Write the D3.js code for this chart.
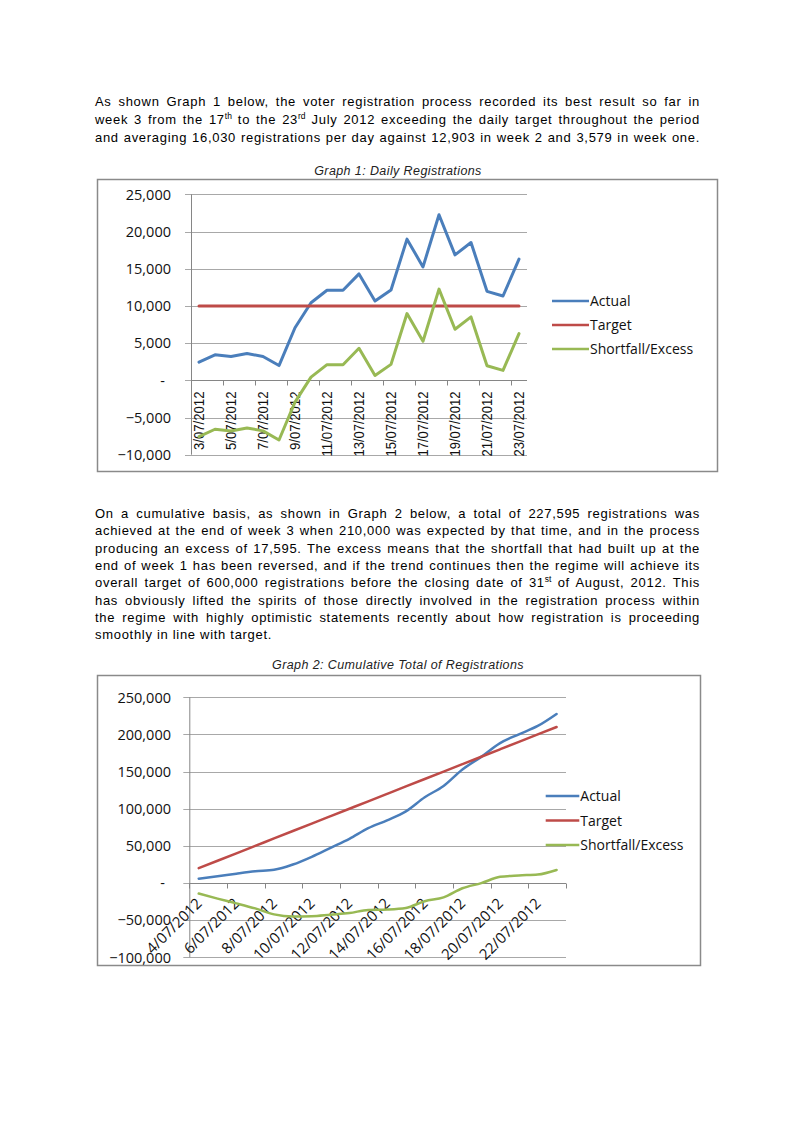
<!DOCTYPE html>
<html><head><meta charset="utf-8">
<script src="https://cdn.jsdelivr.net/npm/d3@7"></script>
<style>
body{margin:0;background:#fff;}
#page{position:relative;width:800px;height:1131px;overflow:hidden;background:#fff;}
.ln{position:absolute;left:95px;width:605px;font-family:"Liberation Sans",Arial,sans-serif;font-size:13px;color:#000;white-space:nowrap;text-align:justify;text-align-last:justify;letter-spacing:0.7px;line-height:16px;}
.ln.last{text-align-last:left;}
.ln sup{font-size:8.5px;vertical-align:5px;line-height:0;letter-spacing:0;}
svg{position:absolute;left:0;top:0;}
</style></head>
<body><div id="page"></div>
<script>
// ---------- data ----------
const dates1 = ["3/07/2012","4/07/2012","5/07/2012","6/07/2012","7/07/2012","8/07/2012","9/07/2012","10/07/2012","11/07/2012","12/07/2012","13/07/2012","14/07/2012","15/07/2012","16/07/2012","17/07/2012","18/07/2012","19/07/2012","20/07/2012","21/07/2012","22/07/2012","23/07/2012"];
const daily_actual = [2430,3420,3190,3600,3200,1980,7060,10430,12100,12100,14300,10650,12140,18970,15240,22250,16860,18520,11960,11330,16280];
const daily_target = [10000,10000,10000,10000,10000,10000,10000,10000,10000,10000,10000,10000,10000,10000,10000,10000,10000,10000,10000,10000,10000];
const daily_shortfall = [-7570,-6580,-6810,-6400,-6800,-8020,-2940,430,2100,2100,4300,650,2140,8970,5240,12250,6860,8520,1960,1330,6280];
const ticks1 = [-10000,-5000,0,5000,10000,15000,20000,25000];

const dates2 = ["4/07/2012","5/07/2012","6/07/2012","7/07/2012","8/07/2012","9/07/2012","10/07/2012","11/07/2012","12/07/2012","13/07/2012","14/07/2012","15/07/2012","16/07/2012","17/07/2012","18/07/2012","19/07/2012","20/07/2012","21/07/2012","22/07/2012","23/07/2012"];
const cum_actual = [5800,9000,12600,15800,17800,24900,35300,47400,59500,73800,84400,96500,115500,130700,152900,169800,188300,200200,211400,227595];
const cum_target = [20000,30000,40000,50000,60000,70000,80000,90000,100000,110000,120000,130000,140000,150000,160000,170000,180000,190000,200000,210000];
const cum_shortfall = [-14200,-21000,-27400,-34200,-42200,-45100,-44700,-42600,-40500,-36200,-35600,-33500,-24500,-19300,-7100,-200,8300,10200,11400,17595];
const ticks2 = [-100000,-50000,0,50000,100000,150000,200000,250000];

const seriesNames = ["Actual","Target","Shortfall/Excess"];
const colors = ["#4A7EBB","#BE4B48","#98B954"];

// ---------- text ----------
const page = d3.select("#page");
const para1 = [
 "As shown Graph 1 below, the voter registration process recorded its best result so far in",
 "week 3 from the 17<sup>th</sup> to the 23<sup>rd</sup> July 2012 exceeding the daily target throughout the period",
 "and averaging 16,030 registrations per day against 12,903 in week 2 and 3,579 in week one."
];
const para2 = [
 "On a cumulative basis, as shown in Graph 2 below, a total of 227,595 registrations was",
 "achieved at the end of week 3 when 210,000 was expected by that time, and in the process",
 "producing an excess of 17,595. The excess means that the shortfall that had built up at the",
 "end of week 1 has been reversed, and if the trend continues then the regime will achieve its",
 "overall target of 600,000 registrations before the closing date of 31<sup>st</sup> of August, 2012. This",
 "has obviously lifted the spirits of those directly involved in the registration process within",
 "the regime with highly optimistic statements recently about how registration is proceeding",
 "smoothly in line with target."
];
para1.forEach((t,i)=>page.append("div").attr("class","ln").style("top",(94+i*18)+"px").html(t));
para2.forEach((t,i)=>page.append("div").attr("class","ln"+(i===para2.length-1?" last":"")).style("top",(506+i*17.3)+"px").html(t));

const svg = page.append("svg").attr("width",800).attr("height",1131);
const fmt = d3.format(",");

function chart(o){
  const g = svg.append("g");
  g.append("rect").attr("x",o.box[0]).attr("y",o.box[1]).attr("width",o.box[2]-o.box[0]).attr("height",o.box[3]-o.box[1])
    .attr("fill","none").attr("stroke","#8a8a8a").attr("stroke-width",1.5);
  g.append("text").attr("x",o.titleX).attr("y",o.titleY).attr("text-anchor","middle")
    .attr("font-family","Liberation Sans, Arial, sans-serif").attr("font-style","italic").attr("font-size","12.5px")
    .attr("letter-spacing","0.4px").attr("fill","#222").text(o.title);
  const x = d3.scaleBand().domain(o.dates).range(o.xr);
  const y = d3.scaleLinear().domain(o.yd).range(o.yr);
  g.selectAll(".grid").data(o.ticks).join("line")
    .attr("x1",o.xr[0]-6).attr("x2",o.xr[1]).attr("y1",d=>Math.round(y(d))+0.5).attr("y2",d=>Math.round(y(d))+0.5)
    .attr("stroke","#a8a8a8").attr("stroke-width",1);
  g.append("line").attr("x1",o.xr[0]+0.5).attr("x2",o.xr[0]+0.5).attr("y1",y(o.yd[1])).attr("y2",y(o.yd[0])).attr("stroke","#868686");
  g.selectAll(".yl").data(o.ticks).join("text")
    .attr("x",d=>d===0?165:171).attr("y",d=>y(d)).attr("dy","0.36em").attr("text-anchor","end")
    .attr("font-family","Open Sans, sans-serif").attr("font-size","14.5px").attr("fill","#111")
    .text(d=>d===0?"-":fmt(d));
  const y0 = Math.round(y(0))+0.5;
  g.append("line").attr("x1",o.xr[0]).attr("x2",o.xr[1]).attr("y1",y0).attr("y2",y0).attr("stroke","#868686");
  const tickIdx = d3.range(0,o.dates.length+1,2);
  g.selectAll(".xt").data(tickIdx).join("line")
    .attr("x1",i=>Math.round(i<o.dates.length?x(o.dates[i]):o.xr[1])+0.5)
    .attr("x2",i=>Math.round(i<o.dates.length?x(o.dates[i]):o.xr[1])+0.5)
    .attr("y1",y0).attr("y2",y0+5).attr("stroke","#868686");
  const labs = o.dates.filter((d,i)=>i%2===0);
  o.drawLabels(g.selectAll(".xl").data(labs).join("text"), x, y0);
  const line = d3.line().x((d,i)=>x(o.dates[i])+x.bandwidth()/2).y(d=>y(d)).curve(o.curve);
  o.series.forEach((s,k)=>{
    g.append("path").attr("d",line(s)).attr("fill","none").attr("stroke",colors[k])
      .attr("stroke-width",o.lw).attr("stroke-linejoin","round").attr("stroke-linecap","round");
  });
  seriesNames.forEach((n,k)=>{
    const ly = o.legY[k];
    g.append("line").attr("x1",o.legX[0]).attr("x2",o.legX[1]).attr("y1",ly).attr("y2",ly).attr("stroke",colors[k]).attr("stroke-width",2.5);
    g.append("text").attr("x",o.legX[1]+1).attr("y",ly).attr("dy","0.36em")
      .attr("font-family","Open Sans, sans-serif").attr("font-size","14px").attr("fill","#111").text(n);
  });
}

chart({
  box:[97.5,179.5,717.5,471.5], title:"Graph 1: Daily Registrations", titleX:398, titleY:175,
  dates:dates1, xr:[191,527], yd:[-10000,25000], yr:[454.7,194.3], ticks:ticks1,
  series:[daily_actual,daily_target,daily_shortfall], lw:3, curve:d3.curveLinear,
  legX:[552,589], legY:[301,325,349],
  drawLabels:(sel,x,y0)=>{
    sel.attr("transform",d=>`translate(${x(d)+x.bandwidth()/2+4.5},${y0+11}) rotate(-90)`)
      .attr("text-anchor","end").attr("font-family","Liberation Sans Narrow, Arial Narrow, sans-serif")
      .attr("font-size","14px").attr("fill","#111")
      .attr("textLength",d=>d.length*6.5).attr("lengthAdjust","spacingAndGlyphs").text(d=>d);
  }
});

chart({
  box:[97.5,675.5,700.5,965.5], title:"Graph 2: Cumulative Total of Registrations", titleX:398, titleY:669,
  dates:dates2, xr:[189.3,566], yd:[-100000,250000], yr:[957.3,697.3], ticks:ticks2,
  series:[cum_actual,cum_target,cum_shortfall], lw:2.5, curve:d3.curveMonotoneX,
  legX:[545.7,579.3], legY:[796,820.5,845],
  drawLabels:(sel,x,y0)=>{
    sel.attr("transform",d=>`translate(${x(d)+x.bandwidth()/2+4},${y0+21}) rotate(-45)`)
      .attr("text-anchor","end").attr("font-family","Open Sans, sans-serif")
      .attr("font-size","15px").attr("fill","#111").text(d=>d);
  }
});
</script></body></html>
